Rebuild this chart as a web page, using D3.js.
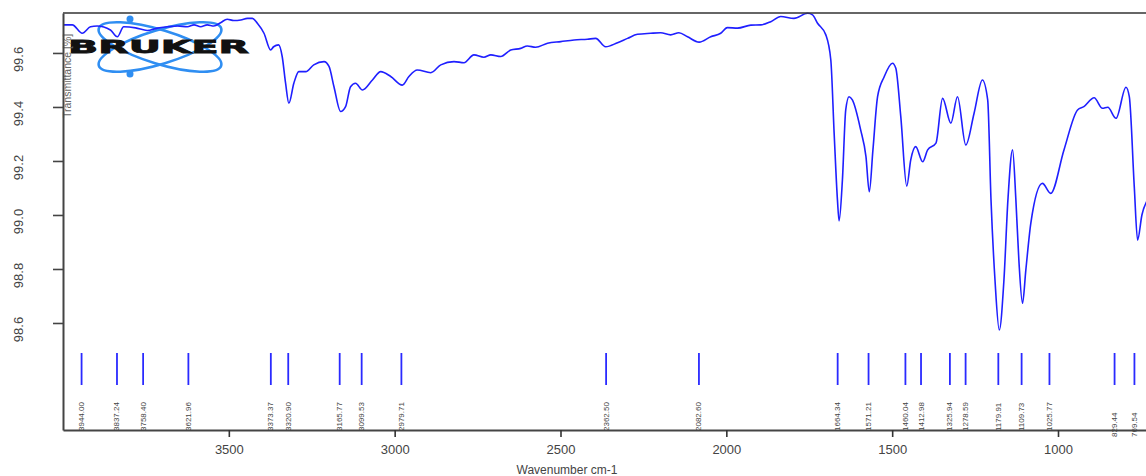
<!DOCTYPE html>
<html>
<head>
<meta charset="utf-8">
<script src="https://cdn.jsdelivr.net/npm/d3@7"></script>
<style>
  body { margin: 0; background: #fff; }
  svg { display: block; font-family: "Liberation Sans", Arial, sans-serif; }
</style>
</head>
<body>
<div id="plot"></div>
<script>
// spectrum (wavenumber cm-1 / transmittance %)
const wavenumber = [3997, 3972, 3942, 3917, 3897, 3857, 3836, 3817, 3781, 3746, 3716, 3686, 3655, 3625, 3605,
  3585, 3565, 3545, 3525, 3505, 3485, 3464, 3444, 3429, 3414, 3394, 3374, 3365, 3350, 3339, 3329, 3319, 3304,
  3289, 3268, 3244, 3213, 3198, 3183, 3163, 3148, 3133, 3118, 3097, 3067, 3042, 3012, 2977, 2957, 2932, 2891,
  2861, 2821, 2791, 2761, 2731, 2710, 2680, 2650, 2620, 2600, 2575, 2539, 2499, 2459, 2419, 2394, 2364, 2328,
  2298, 2268, 2228, 2198, 2168, 2143, 2117, 2082, 2047, 2017, 1997, 1966, 1926, 1896, 1866, 1836, 1796, 1755,
  1740, 1725, 1700, 1685, 1675, 1665, 1660, 1650, 1640, 1630, 1620, 1595, 1579, 1569, 1558, 1544, 1524, 1499,
  1489, 1474, 1456, 1444, 1429, 1408, 1393, 1368, 1348, 1323, 1303, 1278, 1253, 1228, 1212, 1202, 1190, 1177,
  1163, 1151, 1137, 1127, 1118, 1107, 1097, 1082, 1047, 1022, 982, 941, 922, 891, 866, 850, 825, 795, 785,
  770, 760, 747, 730];
const transmittance = [99.704, 99.704, 99.673, 99.697, 99.700, 99.685, 99.660, 99.697, 99.693, 99.683, 99.692,
  99.697, 99.700, 99.697, 99.704, 99.697, 99.704, 99.700, 99.712, 99.725, 99.720, 99.722, 99.728, 99.728, 99.710,
  99.673, 99.611, 99.623, 99.630, 99.586, 99.489, 99.414, 99.488, 99.531, 99.531, 99.556, 99.568, 99.550, 99.475,
  99.383, 99.401, 99.475, 99.488, 99.463, 99.500, 99.531, 99.513, 99.481, 99.513, 99.537, 99.527, 99.556, 99.568,
  99.564, 99.593, 99.584, 99.593, 99.587, 99.611, 99.617, 99.626, 99.621, 99.636, 99.642, 99.648, 99.651, 99.654,
  99.623, 99.638, 99.654, 99.669, 99.673, 99.675, 99.667, 99.675, 99.660, 99.640, 99.660, 99.673, 99.694, 99.692,
  99.703, 99.704, 99.716, 99.735, 99.728, 99.747, 99.741, 99.710, 99.667, 99.574, 99.304, 99.056, 98.978, 99.130,
  99.389, 99.438, 99.426, 99.315, 99.216, 99.086, 99.241, 99.438, 99.512, 99.562, 99.543, 99.364, 99.107, 99.204,
  99.253, 99.197, 99.241, 99.266, 99.432, 99.340, 99.438, 99.259, 99.377, 99.500, 99.426, 99.056, 98.759, 98.574,
  98.759, 99.056, 99.241, 99.056, 98.833, 98.673, 98.796, 98.969, 99.117, 99.080, 99.241, 99.389, 99.401, 99.434,
  99.395, 99.399, 99.358, 99.473, 99.438, 99.104, 98.907, 99.000, 99.056];

// picked peaks
const peaks = [3944.00, 3837.24, 3758.40, 3621.96, 3373.37, 3320.90, 3165.77, 3099.53, 2979.71, 2362.50,
  2082.60, 1664.34, 1571.21, 1460.04, 1412.98, 1325.94, 1278.59, 1179.91, 1109.73, 1025.77, 829.44, 769.54];

const xTicks = [3500, 3000, 2500, 2000, 1500, 1000];
const yTicks = [98.6, 98.8, 99.0, 99.2, 99.4, 99.6];

const xLabel = "Wavenumber cm-1";
const yLabel = "Transmittance [%]";

const width = 1146, height = 476;
const plotLeft = 63, plotTop = 13, plotBottom = 430;

const svg = d3.select("#plot").append("svg")
  .attr("width", width)
  .attr("height", height);

const x = d3.scaleLinear().domain([4000, 400]).range([plotLeft, 1257]);
const y = d3.scaleLinear().domain([98.2037, 99.748]).range([plotBottom, plotTop]);

// logo
const logo = svg.append("g").attr("transform", "translate(160,47)");
logo.append("ellipse").attr("rx", 64).attr("ry", 17).attr("transform", "rotate(17)")
  .attr("fill", "none").attr("stroke", "#2f8ef2").attr("stroke-width", 2.6);
logo.append("ellipse").attr("rx", 64).attr("ry", 17).attr("transform", "rotate(-17)")
  .attr("fill", "none").attr("stroke", "#2f8ef2").attr("stroke-width", 2.6);
logo.append("circle").attr("cx", -30).attr("cy", -28).attr("r", 3.5).attr("fill", "#2f8ef2");
logo.append("circle").attr("cx", -30).attr("cy", 27).attr("r", 3.5).attr("fill", "#2f8ef2");
logo.append("text").attr("x", -92).attr("y", 6)
  .attr("textLength", 181).attr("lengthAdjust", "spacingAndGlyphs")
  .attr("font-family", "'DejaVu Sans', sans-serif").attr("font-weight", "bold")
  .attr("font-size", 18).attr("fill", "#111")
  .attr("stroke", "#111").attr("stroke-width", 0.8)
  .text("BRUKER");

// y label (sits inside the frame)
svg.append("text")
  .attr("transform", `translate(71,118) rotate(-90)`)
  .attr("font-size", 10.5).attr("fill", "#666")
  .text(yLabel);

// peak markers
svg.append("g").selectAll("line").data(peaks).enter().append("line")
  .attr("x1", d => x(d)).attr("x2", d => x(d))
  .attr("y1", 353).attr("y2", 385)
  .attr("stroke", "#2a2aff").attr("stroke-width", 1.8);

svg.append("g").selectAll("text").data(peaks).enter().append("text")
  .attr("transform", d => `translate(${x(d) + 2.5},${d < 1000 ? 437 : 431}) rotate(-90)`)
  .attr("font-size", 8).attr("fill", "#444")
  .text(d => d3.format(".2f")(d));

// spectrum
const line = d3.line()
  .x((d, i) => x(wavenumber[i]))
  .y(d => y(d))
  .curve(d3.curveMonotoneX);

svg.append("path")
  .datum(transmittance)
  .attr("d", line)
  .attr("fill", "none")
  .attr("stroke", "#1f1fff")
  .attr("stroke-width", 1.6);

// frame
svg.append("line").attr("x1", plotLeft).attr("x2", width).attr("y1", plotTop).attr("y2", plotTop)
  .attr("stroke", "#333").attr("stroke-width", 1.6);

const xAxis = svg.append("g")
  .attr("transform", `translate(0,${plotBottom})`)
  .call(d3.axisBottom(x).tickValues(xTicks).tickSize(7).tickSizeOuter(0).tickFormat(d3.format("d")));
xAxis.select(".domain").attr("stroke", "#444").attr("stroke-width", 2);
xAxis.selectAll(".tick line").attr("stroke", "#333").attr("stroke-width", 1.6);
xAxis.selectAll(".tick text").attr("font-size", 13).attr("fill", "#444").attr("dy", "1.05em")
  .attr("font-family", "'Liberation Sans', Arial, sans-serif");

const yAxis = svg.append("g")
  .attr("transform", `translate(${plotLeft},0)`)
  .call(d3.axisLeft(y).tickValues(yTicks).tickSize(10).tickSizeOuter(0));
yAxis.select(".domain").attr("stroke", "#444").attr("stroke-width", 2);
yAxis.selectAll(".tick line").attr("stroke", "#444").attr("stroke-width", 1.6);
yAxis.selectAll(".tick text").remove();
yAxis.selectAll(".tick").append("text")
  .attr("transform", "translate(-45,6) rotate(-90)")
  .attr("text-anchor", "middle")
  .attr("dy", "0.35em")
  .attr("font-size", 13).attr("fill", "#444")
  .attr("font-family", "'Liberation Sans', Arial, sans-serif")
  .text(d => d3.format(".1f")(d));

svg.append("text")
  .attr("x", 567).attr("y", 474)
  .attr("text-anchor", "middle")
  .attr("font-size", 12).attr("fill", "#444")
  .text(xLabel);
</script>
</body>
</html>
